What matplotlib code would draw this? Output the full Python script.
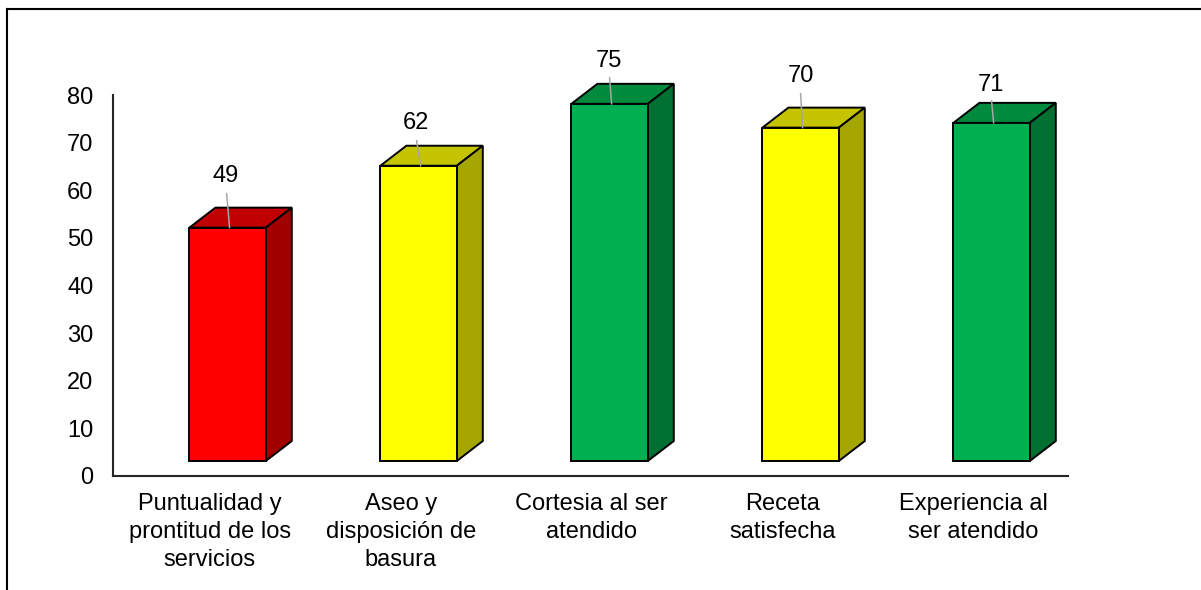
import matplotlib
matplotlib.use("Agg")
import matplotlib.pyplot as plt
from matplotlib.lines import Line2D
from matplotlib.patches import Polygon

plt.rcParams['font.family'] = ['Liberation Sans', 'DejaVu Sans']

categories = ["Puntualidad y\nprontitud de los\nservicios",
              "Aseo y\ndisposición de\nbasura",
              "Cortesia al ser\natendido",
              "Receta\nsatisfecha",
              "Experiencia al\nser atendido"]
values = [49, 62, 75, 70, 71]
yticks = [0, 10, 20, 30, 40, 50, 60, 70, 80]

front_colors = ["#ff0000", "#ffff00", "#00b050", "#ffff00", "#00b050"]
top_colors = ["#c00000", "#c4c400", "#008a3e", "#c4c400", "#008a3e"]
side_colors = ["#a00000", "#a6a600", "#006f32", "#a6a600", "#006f32"]

# pixel offsets of the value labels and leader lines, from the middle of the bar top
label_off = [(-2, 52), (-3, 43), (-1, 43), (0, 52), (-1, 38)]
leader_off = [(-1, 34), (-2, 25), (0, 26), (0, 34), (0, 22)]

W, H = 1201, 590
fig = plt.figure(figsize=(W / 100, H / 100), dpi=100)
ax = fig.add_axes([113 / W, 1 - 476 / H, 955 / W, 381 / H])
ax.set_xlim(0, 5)
ax.set_ylim(0, 80)

# size of one pixel in data units
px = 5 / 955
py = 80 / 381
base = 15 * py
depth_x = 26 * px
depth_y = 20 * py
left = 0.4
width = 0.4

for i, v in enumerate(values):
    x0 = i + left
    x1 = x0 + width
    y0 = base
    y1 = base + v
    ax.bar(x0, v, width=width, bottom=base, align='edge', color=front_colors[i],
           edgecolor='black', linewidth=1.4, clip_on=False, zorder=3)
    ax.add_patch(Polygon([(x0, y1), (x1, y1), (x1 + depth_x, y1 + depth_y), (x0 + depth_x, y1 + depth_y)],
                         facecolor=top_colors[i], edgecolor='black', linewidth=1.4, clip_on=False, zorder=2))
    ax.add_patch(Polygon([(x1, y0), (x1 + depth_x, y0 + depth_y), (x1 + depth_x, y1 + depth_y), (x1, y1)],
                         facecolor=side_colors[i], edgecolor='black', linewidth=1.4, clip_on=False, zorder=2))
    xc = x0 + width / 2
    ax.plot([xc + 2 * px, xc + leader_off[i][0] * px], [y1, y1 + leader_off[i][1] * py],
            color='#a6a6a6', linewidth=1.1, clip_on=False, zorder=4)
    ax.text(xc + label_off[i][0] * px, y1 + label_off[i][1] * py, str(v), ha='center', va='center',
            fontsize=17, color='black')

ax.set_yticks(yticks)
ax.set_xticks([i + 0.506 for i in range(len(categories))])
ax.set_xticklabels(categories, fontsize=17, linespacing=1.36)
ax.tick_params(axis='y', length=0, pad=14, labelsize=17)
ax.tick_params(axis='x', length=0, pad=12)
for s in ['top', 'right']:
    ax.spines[s].set_visible(False)
for s in ['left', 'bottom']:
    ax.spines[s].set_color('#262626')
    ax.spines[s].set_linewidth(1.5)

# outer frame, only the left and top edges show
fig.add_artist(Line2D([7 / W, 7 / W], [0, 1 - 9 / H], color='black', linewidth=1.5))
fig.add_artist(Line2D([7 / W, 1], [1 - 9 / H, 1 - 9 / H], color='black', linewidth=1.5))

fig.savefig("out.png", dpi=100)
